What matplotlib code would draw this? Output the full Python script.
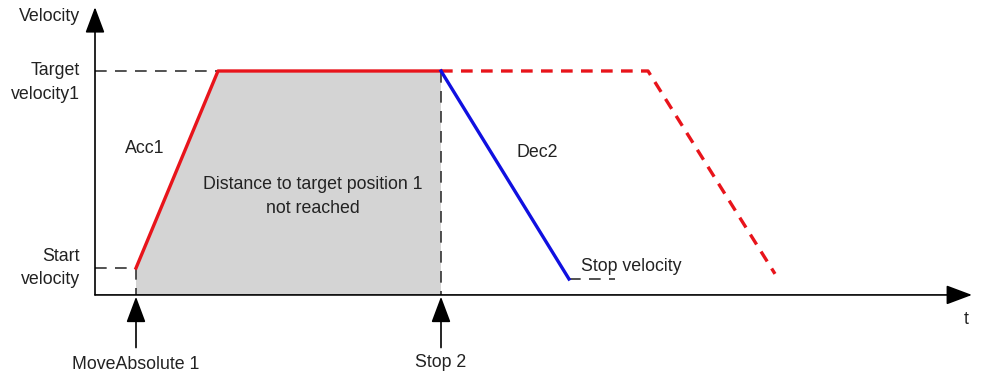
import numpy as np
import matplotlib.pyplot as plt
from matplotlib.patches import Polygon

plt.rcParams['font.family'] = ['Liberation Sans', 'DejaVu Sans']

# time points (arbitrary units) and velocity (percent of target)
t_move = 4.1
t_acc_end = 12.3
t_stop = 34.6
t_dec_end = 47.4
t_stopvel_end = 52.0
t_plan_dec = 55.3
t_plan_end = 68.0
t_axis_end = 87.7

v_start = 12.0
v_target = 100.0
v_stop = 7.1
v_plan_end = 9.4
v_axis_end = 128.5

profile_t = [t_move, t_acc_end, t_stop]
profile_v = [v_start, v_target, v_target]
dec_t = [t_stop, t_dec_end]
dec_v = [v_target, v_stop]
planned_t = [t_stop, t_plan_dec, t_plan_end]
planned_v = [v_target, v_target, v_plan_end]

fig = plt.figure(figsize=(9.81, 3.76), dpi=100)
ax = fig.add_axes([0, 0, 1, 1])
ax.set_xlim(-9.5, 88.6)
ax.set_ylim(-36.2, 131.7)
ax.axis('off')

# gray area = distance covered before the stop
poly = Polygon([(t_move, 0)] + list(zip(profile_t, profile_v)) + [(t_stop, 0)],
               closed=True, facecolor='#d4d4d4', edgecolor='none', zorder=1)
ax.add_patch(poly)

# axes with arrow heads
arr = dict(arrowstyle='-|>,head_length=1.6,head_width=0.6', color='black', lw=1.2,
           shrinkA=0, shrinkB=0)
ax.annotate('', xy=(0, v_axis_end), xytext=(0, 0), arrowprops=arr, zorder=5)
ax.annotate('', xy=(t_axis_end, 0), xytext=(0, 0), arrowprops=arr, zorder=5)

dash = dict(color='#333333', lw=1.2, dashes=(7, 5), zorder=3)
ax.plot([0, t_acc_end], [v_target, v_target], **dash)
ax.plot([0, t_move], [v_start, v_start], **dash)
ax.plot([t_move, t_move], [v_start, 0], **dash)
ax.plot([t_stop, t_stop], [v_target, 0], **dash)
ax.plot([t_dec_end, t_stopvel_end], [v_stop, v_stop], **dash)

ax.plot(planned_t, planned_v, color='#e8141b', lw=2.4, dashes=(3.5, 2.5), zorder=2)
ax.plot(profile_t, profile_v, color='#e8141b', lw=2.4, zorder=4)
ax.plot(dec_t, dec_v, color='#1010e0', lw=2.4, zorder=4)

# command arrows
for tx in [t_move, t_stop]:
    ax.annotate('', xy=(tx, -0.8), xytext=(tx, -23.5), arrowprops=arr, zorder=5)

fs = 12.8
tc = '#222222'
ax.text(-1.5, 124.3, 'Velocity', ha='right', va='center', fontsize=fs, color=tc)
ax.text(-1.5, 100.0, 'Target', ha='right', va='center', fontsize=fs, color=tc)
ax.text(-1.5, 89.3, 'velocity1', ha='right', va='center', fontsize=fs, color=tc)
ax.text(-1.5, 17.0, 'Start', ha='right', va='center', fontsize=fs, color=tc)
ax.text(-1.5, 7.1, 'velocity', ha='right', va='center', fontsize=fs, color=tc)
ax.text(3.0, 65.2, 'Acc1', ha='left', va='center', fontsize=fs, color=tc)
ax.text(21.8, 49.1, 'Distance to target position 1', ha='center', va='center', fontsize=fs, color=tc)
ax.text(21.8, 38.4, 'not reached', ha='center', va='center', fontsize=fs, color=tc)
ax.text(44.2, 63.4, 'Dec2', ha='center', va='center', fontsize=fs, color=tc)
ax.text(48.6, 12.5, 'Stop velocity', ha='left', va='center', fontsize=fs, color=tc)
ax.text(87.1, -10.8, 't', ha='center', va='center', fontsize=fs, color=tc)
ax.text(t_move, -31.0, 'MoveAbsolute 1', ha='center', va='center', fontsize=fs, color=tc)
ax.text(t_stop, -30.2, 'Stop 2', ha='center', va='center', fontsize=fs, color=tc)

fig.savefig('out.png', dpi=100)
